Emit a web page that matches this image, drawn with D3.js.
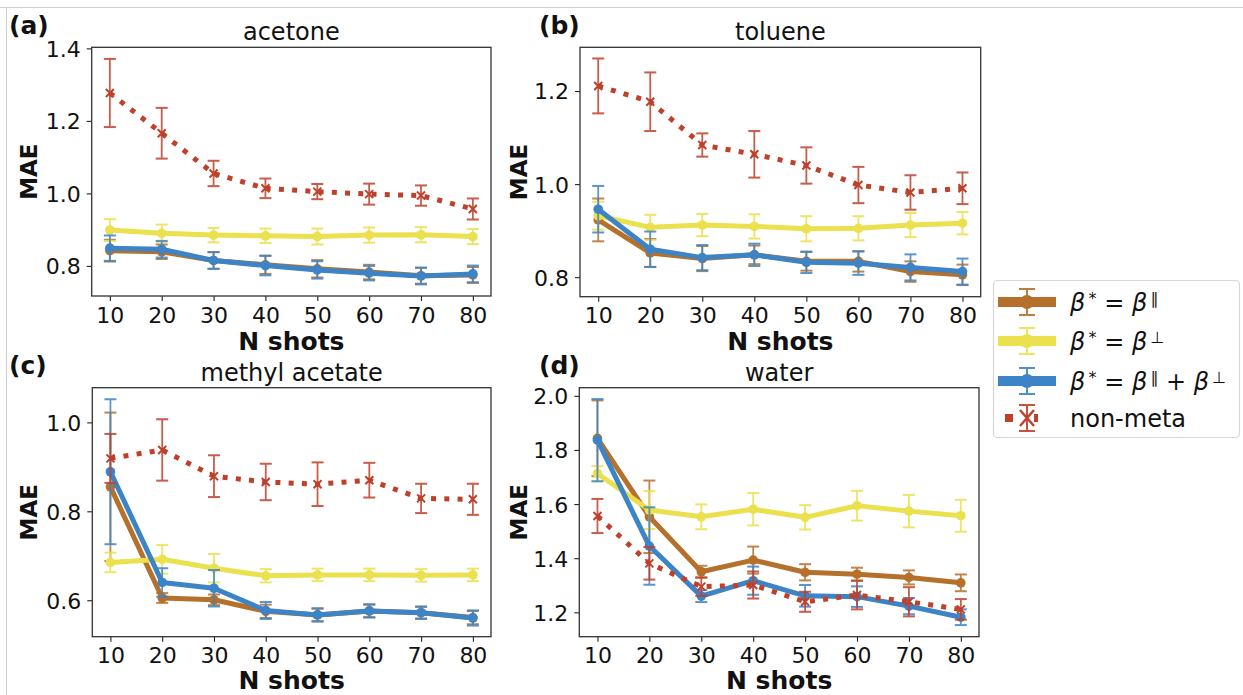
<!DOCTYPE html>
<html><head><meta charset="utf-8">
<script src="https://cdn.jsdelivr.net/npm/d3@7"></script>
<style>
html,body{margin:0;padding:0;background:#fff;}
svg{display:block;font-family:"DejaVu Sans",sans-serif;}
</style></head><body>
<svg id="chart" width="1243" height="695"></svg>
<script>
// ---------- data ----------
const shots = [10, 20, 30, 40, 50, 60, 70, 80];
const panelTitles = ["acetone", "toluene", "methyl acetate", "water"];
const panelLetters = ["(a)", "(b)", "(c)", "(d)"];
const seriesNames = ["β* = β∥", "β* = β⊥", "β* = β∥ + β⊥", "non-meta"];
const xTicks = [10, 20, 30, 40, 50, 60, 70, 80];
const yTicksA = [0.8, 1.0, 1.2, 1.4];
const yTicksB = [0.8, 1.0, 1.2];
const yTicksC = [0.6, 0.8, 1.0];
const yTicksD = [1.2, 1.4, 1.6, 1.8, 2.0];
const yDomainA = [0.717, 1.403];
const yDomainB = [0.758, 1.294];
const yDomainC = [0.518, 1.078];
const yDomainD = [1.11, 2.03];

// acetone
const acetonePar = [0.842, 0.839, 0.815, 0.803, 0.792, 0.783, 0.773, 0.775];
const acetoneParErr = [0.03, 0.02, 0.023, 0.025, 0.024, 0.02, 0.022, 0.022];
const acetonePerp = [0.899, 0.890, 0.885, 0.883, 0.881, 0.885, 0.886, 0.881];
const acetonePerpErr = [0.03, 0.024, 0.02, 0.02, 0.022, 0.021, 0.021, 0.021];
const acetoneBoth = [0.849, 0.846, 0.815, 0.801, 0.789, 0.780, 0.772, 0.778];
const acetoneBothErr = [0.035, 0.023, 0.023, 0.027, 0.024, 0.02, 0.023, 0.023];
const acetoneNon = [1.277, 1.166, 1.055, 1.014, 1.005, 0.998, 0.994, 0.957];
const acetoneNonErr = [0.094, 0.07, 0.035, 0.027, 0.021, 0.029, 0.028, 0.029];
// toluene
const toluenePar = [0.923, 0.852, 0.840, 0.848, 0.834, 0.834, 0.812, 0.805];
const tolueneParErr = [0.046, 0.03, 0.027, 0.02, 0.02, 0.022, 0.022, 0.022];
const toluenePerp = [0.932, 0.907, 0.912, 0.909, 0.904, 0.905, 0.912, 0.916];
const toluenePerpErr = [0.03, 0.027, 0.024, 0.026, 0.027, 0.026, 0.026, 0.024];
const tolueneBoth = [0.946, 0.860, 0.842, 0.848, 0.832, 0.830, 0.821, 0.812];
const tolueneBothErr = [0.05, 0.038, 0.027, 0.024, 0.023, 0.025, 0.028, 0.028];
const tolueneNon = [1.211, 1.177, 1.084, 1.064, 1.040, 0.998, 0.982, 0.991];
const tolueneNonErr = [0.059, 0.063, 0.025, 0.05, 0.039, 0.039, 0.037, 0.034];
// methyl acetate
const methylPar = [0.855, 0.605, 0.601, 0.575, 0.567, 0.576, 0.572, 0.561];
const methylParErr = [0.167, 0.011, 0.012, 0.015, 0.014, 0.014, 0.013, 0.015];
const methylPerp = [0.685, 0.692, 0.672, 0.655, 0.657, 0.657, 0.656, 0.657];
const methylPerpErr = [0.022, 0.032, 0.032, 0.015, 0.014, 0.014, 0.014, 0.014];
const methylBoth = [0.889, 0.640, 0.627, 0.577, 0.567, 0.576, 0.572, 0.560];
const methylBothErr = [0.163, 0.032, 0.041, 0.019, 0.015, 0.015, 0.014, 0.017];
const methylNon = [0.919, 0.938, 0.879, 0.866, 0.861, 0.870, 0.829, 0.827];
const methylNonErr = [0.055, 0.069, 0.047, 0.041, 0.049, 0.039, 0.033, 0.035];
// water
const waterPar = [1.843, 1.553, 1.350, 1.393, 1.348, 1.341, 1.329, 1.309];
const waterParErr = [0.14, 0.134, 0.022, 0.05, 0.03, 0.024, 0.026, 0.031];
const waterPerp = [1.713, 1.578, 1.553, 1.581, 1.551, 1.594, 1.574, 1.557];
const waterPerpErr = [0.027, 0.07, 0.046, 0.06, 0.045, 0.055, 0.06, 0.059];
const waterBoth = [1.836, 1.445, 1.260, 1.317, 1.261, 1.258, 1.223, 1.182];
const waterBothErr = [0.152, 0.143, 0.022, 0.052, 0.04, 0.038, 0.03, 0.029];
const waterNon = [1.556, 1.381, 1.295, 1.301, 1.239, 1.264, 1.239, 1.211];
const waterNonErr = [0.063, 0.06, 0.034, 0.05, 0.037, 0.053, 0.054, 0.038];

// ---------- styles ----------
const colors = ["#b5702c", "#ebe04e", "#3d84c6", "#bf412b"];

const panels = [
  {x0: 91.7, x1: 491, y0: 47.3, y1: 296, dom: yDomainA, ticks: yTicksA,
   series: [[acetonePar, acetoneParErr], [acetonePerp, acetonePerpErr], [acetoneBoth, acetoneBothErr], [acetoneNon, acetoneNonErr]],
   lx: 9, ly: 34, mx: 29, nsY: 350},
  {x0: 580, x1: 980.7, y0: 47.3, y1: 296.7, dom: yDomainB, ticks: yTicksB,
   series: [[toluenePar, tolueneParErr], [toluenePerp, toluenePerpErr], [tolueneBoth, tolueneBothErr], [tolueneNon, tolueneNonErr]],
   lx: 539, ly: 34, mx: 519, nsY: 350},
  {x0: 92.3, x1: 491, y0: 387.7, y1: 636.7, dom: yDomainC, ticks: yTicksC,
   series: [[methylPar, methylParErr], [methylPerp, methylPerpErr], [methylBoth, methylBothErr], [methylNon, methylNonErr]],
   lx: 9, ly: 374, mx: 29, nsY: 689},
  {x0: 579.3, x1: 979, y0: 387.7, y1: 636.7, dom: yDomainD, ticks: yTicksD,
   series: [[waterPar, waterParErr], [waterPerp, waterPerpErr], [waterBoth, waterBothErr], [waterNon, waterNonErr]],
   lx: 539, ly: 374, mx: 519, nsY: 689}
];

const svg = d3.select("#chart");
// figure border lines (top & left)
svg.append("line").attr("x1", 0).attr("x2", 1243).attr("y1", 7.5).attr("y2", 7.5).attr("stroke", "#d0d0d0").attr("stroke-width", 1);
svg.append("line").attr("x1", 6.5).attr("x2", 6.5).attr("y1", 7).attr("y2", 695).attr("stroke", "#d0d0d0").attr("stroke-width", 1);

panels.forEach((p, pi) => {
  const x = d3.scaleLinear().domain([6.5, 83.5]).range([p.x0, p.x1]);
  const y = d3.scaleLinear().domain(p.dom).range([p.y1, p.y0]);
  const g = svg.append("g");

  // axes
  const xa = g.append("g").attr("transform", `translate(0,${p.y1})`)
    .call(d3.axisBottom(x).tickValues(xTicks).tickSize(5).tickPadding(6).tickFormat(d3.format("d")));
  const ya = g.append("g").attr("transform", `translate(${p.x0},0)`)
    .call(d3.axisLeft(y).tickValues(p.ticks).tickSize(5).tickPadding(6).tickFormat(d3.format(".1f")));
  [xa, ya].forEach(a => {
    a.select(".domain").remove();
    a.selectAll("line").attr("stroke", "#222").attr("stroke-width", 1.1);
    a.selectAll("text").attr("font-size", 22).attr("fill", "#111").attr("font-family", "DejaVu Sans");
  });
  xa.selectAll("text").attr("dy", "0.71em");
  ya.selectAll("text").attr("dy", "0.36em");

  // frame
  g.append("rect").attr("x", p.x0).attr("y", p.y0).attr("width", p.x1 - p.x0).attr("height", p.y1 - p.y0)
    .attr("fill", "none").attr("stroke", "#333").attr("stroke-width", 1.3);

  const clipId = "clip" + pi;
  g.append("clipPath").attr("id", clipId).append("rect")
    .attr("x", p.x0).attr("y", p.y0).attr("width", p.x1 - p.x0).attr("height", p.y1 - p.y0);
  const plot = g.append("g").attr("clip-path", `url(#${clipId})`);

  p.series.forEach(([vals, errs], si) => {
    const c = colors[si];
    const pts = shots.map((s, i) => ({s, v: vals[i], e: errs[i]}));
    const line = d3.line().x(d => x(d.s)).y(d => y(d.v));
    const sg = plot.append("g");
    const path = sg.append("path").datum(pts).attr("d", line).attr("fill", "none").attr("stroke", c);
    if (si === 3) {
      path.attr("stroke-width", 5).attr("stroke-dasharray", "5 8.25").attr("stroke-linecap", "butt");
    } else {
      path.attr("stroke-width", 5).attr("stroke-linejoin", "round");
    }
    // error bars
    const eb = sg.append("g").attr("stroke", c).attr("stroke-width", 1.8).attr("opacity", 0.85);
    pts.forEach(d => {
      const cx = x(d.s), yt = y(d.v + d.e), yb = y(d.v - d.e);
      eb.append("line").attr("x1", cx).attr("x2", cx).attr("y1", yt).attr("y2", yb);
      eb.append("line").attr("x1", cx - 6).attr("x2", cx + 6).attr("y1", yt).attr("y2", yt).attr("stroke-width", 2);
      eb.append("line").attr("x1", cx - 6).attr("x2", cx + 6).attr("y1", yb).attr("y2", yb).attr("stroke-width", 2);
    });
    // markers
    pts.forEach(d => {
      const cx = x(d.s), cy = y(d.v);
      if (si === 3) {
        sg.append("path").attr("d", `M${cx-4},${cy-4}L${cx+4},${cy+4}M${cx-4},${cy+4}L${cx+4},${cy-4}`)
          .attr("stroke", c).attr("stroke-width", 2).attr("fill", "none");
      } else {
        sg.append("circle").attr("cx", cx).attr("cy", cy).attr("r", 4.8).attr("fill", c);
      }
    });
  });

  // title
  g.append("text").attr("x", (p.x0 + p.x1) / 2).attr("y", p.y0 - 7).attr("text-anchor", "middle")
    .attr("font-size", 24).attr("fill", "#111").text(panelTitles[pi]);
  // panel letter
  g.append("text").attr("x", p.lx).attr("y", p.ly).attr("font-size", 25).attr("font-weight", "bold")
    .attr("fill", "#111").text(panelLetters[pi]);
  // x label
  g.append("text").attr("x", (p.x0 + p.x1) / 2).attr("y", p.nsY).attr("text-anchor", "middle")
    .attr("font-size", 25).attr("font-weight", "bold").attr("fill", "#111").text("N shots");
  // y label
  g.append("text").attr("transform", `translate(${p.mx},${(p.y0 + p.y1) / 2}) rotate(-90)`)
    .attr("text-anchor", "middle").attr("dy", "0.36em")
    .attr("font-size", 23).attr("font-weight", "bold").attr("fill", "#111").text("MAE");
});

// ---------- legend ----------
const lg = svg.append("g");
lg.append("rect").attr("x", 993.5).attr("y", 280.5).attr("width", 246).attr("height", 157).attr("rx", 4)
  .attr("fill", "#fff").attr("stroke", "#d6d6d6").attr("stroke-width", 1.2);
const rowsY = [302, 341, 381, 418];
const legendParts = [
  [["β", "it"], ["\u2009*", "sup"], [" = ", ""], ["β", "it"], ["\u2009∥", "sup"]],
  [["β", "it"], ["\u2009*", "sup"], [" = ", ""], ["β", "it"], ["\u2009⊥", "sup"]],
  [["β", "it"], ["\u2009*", "sup"], [" = ", ""], ["β", "it"], ["\u2009∥", "sup"], [" + ", ""], ["β", "it"], ["\u2009⊥", "sup"]],
  [["non-meta", ""]]
];
seriesNames.forEach((name, i) => {
  const cy = rowsY[i], c = colors[i];
  const hx0 = 998, hx1 = 1056, hm = (hx0 + hx1) / 2;
  if (i < 3) {
    lg.append("line").attr("x1", hx0).attr("x2", hx1).attr("y1", cy).attr("y2", cy).attr("stroke", c).attr("stroke-width", 10);
  } else {
    lg.append("rect").attr("x", hx0 + 7).attr("y", cy - 4).attr("width", 8).attr("height", 8).attr("fill", c);
  }
  const eg = lg.append("g").attr("stroke", c).attr("opacity", 0.9);
  eg.append("line").attr("x1", hm).attr("x2", hm).attr("y1", cy - 13).attr("y2", cy + 13).attr("stroke-width", 2);
  eg.append("line").attr("x1", hm - 8).attr("x2", hm + 8).attr("y1", cy - 13).attr("y2", cy - 13).attr("stroke-width", 2);
  eg.append("line").attr("x1", hm - 8).attr("x2", hm + 8).attr("y1", cy + 13).attr("y2", cy + 13).attr("stroke-width", 2);
  if (i < 3) {
    lg.append("circle").attr("cx", hm).attr("cy", cy).attr("r", 7).attr("fill", c);
  } else {
    lg.append("path").attr("d", `M${hm-7},${cy-8}L${hm+7},${cy+8}M${hm-7},${cy+8}L${hm+7},${cy-8}`)
      .attr("stroke", c).attr("stroke-width", 2.5);
    lg.append("rect").attr("x", hm + 7).attr("y", cy - 4).attr("width", 4).attr("height", 8).attr("fill", c);
  }
  const t = lg.append("text").attr("x", 1070).attr("y", cy).attr("dy", "0.36em").attr("font-size", 24).attr("fill", "#111");
  legendParts[i].forEach(([s, k]) => {
    const ts = t.append("tspan").text(s);
    if (k === "it") ts.attr("font-style", "italic");
    if (k === "sup") ts.attr("font-size", 16).attr("baseline-shift", "45%");
  });
});
</script>
</body></html>
